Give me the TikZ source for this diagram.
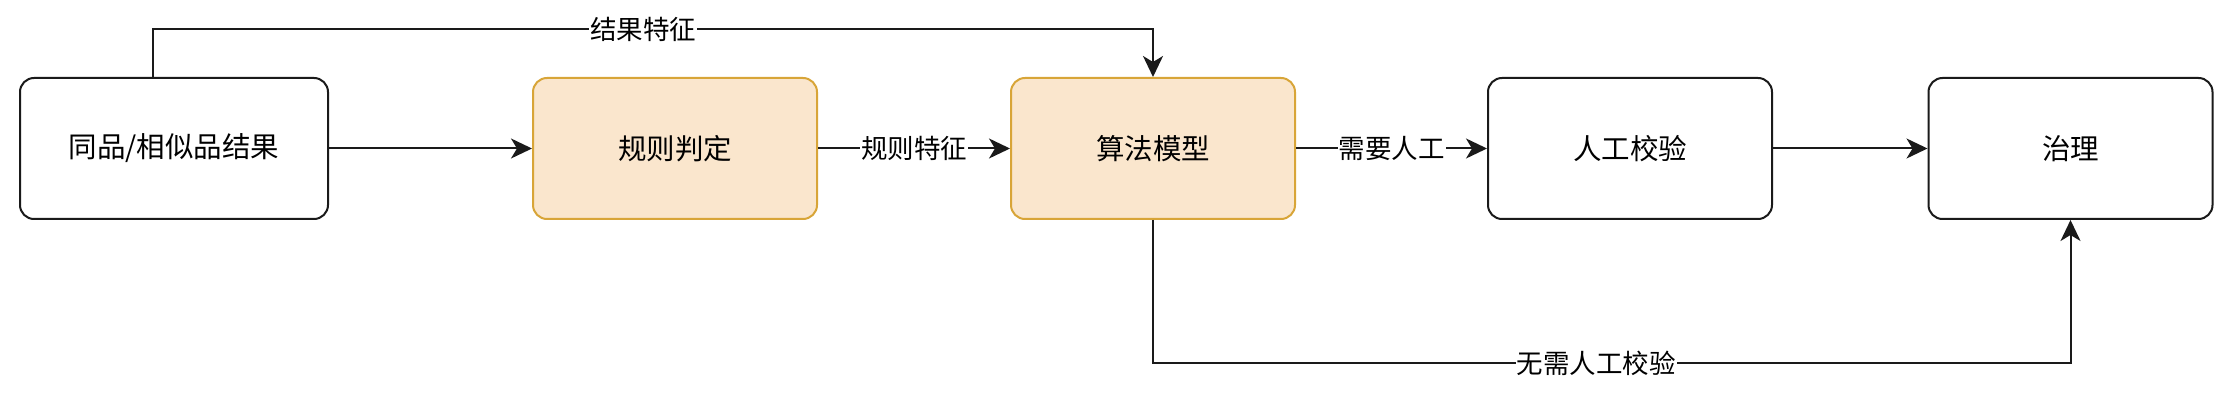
\documentclass[tikz,border=0pt]{standalone}
\usepackage{fontspec}
\setmainfont{Noto Sans CJK SC}
\usetikzlibrary{arrows.meta}
\definecolor{peachfill}{HTML}{FAE6CD}
\definecolor{peachdraw}{HTML}{D8A538}
\definecolor{linec}{HTML}{1A1A1A}
\tikzset{
  box/.style={draw=linec, line width=2pt, rounded corners=14pt, fill=white,
    minimum width=284pt, minimum height=141pt, inner sep=0pt,
    font=\fontsize{28.5pt}{34pt}\selectfont},
  hot/.style={box, draw=peachdraw, fill=peachfill},
  conn/.style={draw=linec, line width=2pt, -{Stealth[length=21pt,width=20pt,inset=6pt]}},
  lbl/.style={fill=white, inner sep=1pt, text=black, font=\fontsize{26.5pt}{30pt}\selectfont}
}
\begin{document}
\begin{tikzpicture}[x=1pt,y=-1pt]
\useasboundingbox (0,0) rectangle (2228,406);
\node[box, minimum width=308pt] (a) at (174,148.5) {同品/相似品结果};
\node[hot] (b) at (675,148.5) {规则判定};
\node[hot] (c) at (1153,148.5) {算法模型};
\node[box] (d) at (1630,148.5) {人工校验};
\node[box] (e) at (2070.5,148.5) {治理};
\coordinate (t1) at (153,29);
\coordinate (t2) at (1153,29);
\coordinate (b1) at (1153,363);
\coordinate (b2) at (2070.5,363);
\draw[conn] (a.east) -- (b.west);
\draw[conn] (b.east) -- node[lbl] {规则特征} (c.west);
\draw[conn] (c.east) -- node[lbl] {需要人工} (d.west);
\draw[conn] (d.east) -- (e.west);
\draw[conn] (a.north -| t1) -- (t1) -- (t2) -- (c.north);
\node[lbl] (l1) at (643,29) {结果特征};
\draw[conn] (c.south) -- (b1) -- (b2) -- (e.south);
\node[lbl] (l2) at (1596,363) {无需人工校验};
\end{tikzpicture}
\end{document}
